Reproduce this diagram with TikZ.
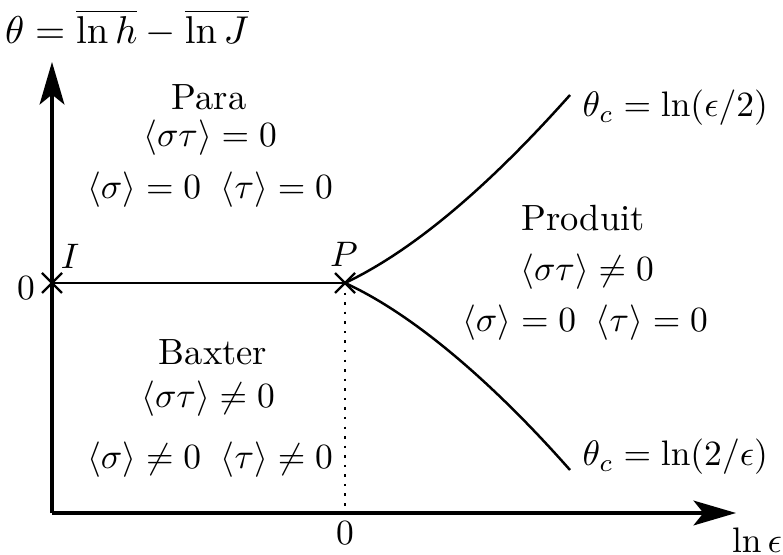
\documentclass[tikz,border=0pt]{standalone}
\usepackage{amsmath,amssymb}
\usetikzlibrary{arrows.meta,calc}
\begin{document}
\begin{tikzpicture}[x=0.2822pt,y=-0.2822pt,
  axis/.style={line width=0.85pt,-{Stealth[length=12pt,width=7pt,inset=2.8pt]}},
  curve/.style={line width=0.7pt},
  crossline/.style={line width=0.65pt},
  lbl/.style={inner sep=0pt,font=\fontsize{10.3}{12}\selectfont}]
\useasboundingbox (0,0) rectangle (783,555);
\coordinate (O) at (52,513);
\coordinate (Ytip) at (52,62);
\coordinate (Xtip) at (736,513);
\coordinate (I) at (52,283);
\coordinate (P) at (345,283);
\coordinate (Pd) at (345,513);
\coordinate (Up) at (570,95);
\coordinate (Dn) at (570,470);
\draw[axis] (O) -- (Ytip);
\draw[axis] (O) -- (Xtip);
\draw[curve] (I) -- (P);
\draw[line width=0.7pt,dotted] (P) -- (Pd);
\draw[curve] (P) .. controls (425,245) and (505,168) .. (Up);
\draw[curve] (P) .. controls (415,315) and (495,385) .. (Dn);
\foreach \c in {I,P}{
  \draw[crossline] ($(\c)+(-10,-10)$) -- ($(\c)+(10,10)$);
  \draw[crossline] ($(\c)+(-10,10)$) -- ($(\c)+(10,-10)$);
}
\node[lbl,font=\fontsize{10.9}{12}\selectfont] (ylab) at (127,28) {$\theta=\overline{\ln h}-\overline{\ln J}$};
\node[lbl] (para) at (209,97) {Para};
\node[lbl] (para2) at (210,138) {$\langle\sigma\tau\rangle=0$};
\node[lbl] (para3) at (210,190) {$\langle\sigma\rangle=0\;\;\langle\tau\rangle=0$};
\node[lbl] (Il) at (70,256) {$I$};
\node[lbl] (zy) at (26,288) {$0$};
\node[lbl] (Pl) at (344,254) {$P$};
\node[lbl] (prod) at (583,218) {Produit};
\node[lbl] (prod2) at (587,272) {$\langle\sigma\tau\rangle\neq0$};
\node[lbl] (prod3) at (585,323) {$\langle\sigma\rangle=0\;\;\langle\tau\rangle=0$};
\node[lbl] (bax) at (213,352) {Baxter};
\node[lbl] (bax2) at (208,399) {$\langle\sigma\tau\rangle\neq0$};
\node[lbl] (bax3) at (210,460) {$\langle\sigma\rangle\neq0\;\;\langle\tau\rangle\neq0$};
\node[lbl] (zx) at (345,533) {$0$};
\node[lbl] (xlab) at (757,540) {$\ln\epsilon$};
\node[lbl,anchor=west] (tc1) at (582,108) {$\theta_c=\ln(\epsilon/2)$};
\node[lbl,anchor=west] (tc2) at (582,457) {$\theta_c=\ln(2/\epsilon)$};
\end{tikzpicture}
\end{document}
